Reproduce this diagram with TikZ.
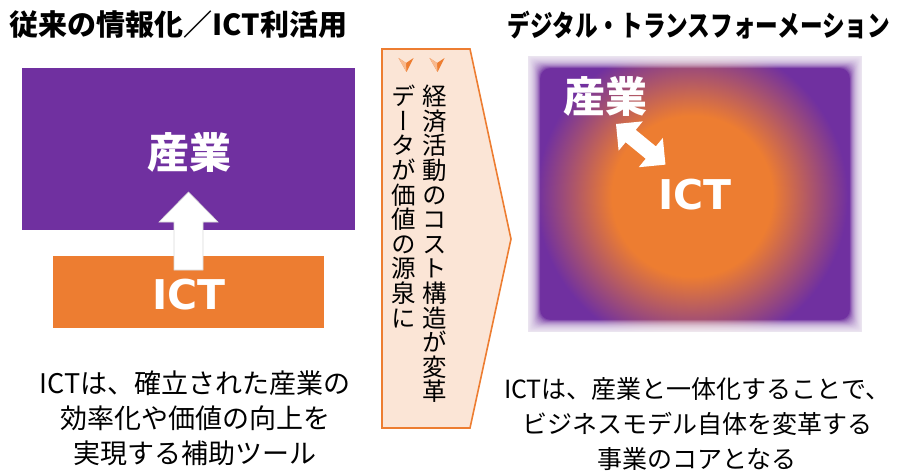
\documentclass[tikz,border=0pt]{standalone}
\usepackage{fontspec}
\setmainfont{Noto Sans CJK JP}
\newfontfamily\ictfont{DejaVu Sans}
\newfontfamily\vfont[RawFeature=+vert]{Noto Sans CJK JP}
\definecolor{dxpurple}{HTML}{7030A0}
\definecolor{dxorange}{HTML}{ED7D31}
\definecolor{dxpeach}{HTML}{FBE5D6}
\definecolor{dxlight}{HTML}{F8B98E}
\pgfdeclareradialshading{dxglow}{\pgfpoint{0bp}{0bp}}{color(0bp)=(dxorange); color(80bp)=(dxorange); color(155bp)=(dxpurple); color(260bp)=(dxpurple)}
\tikzset{
  titletext/.style={font=\fontsize{29}{32}\selectfont\bfseries, inner sep=0},
  bigjp/.style={font=\fontsize{42}{46}\selectfont\bfseries, text=white, inner sep=0},
  bigict/.style={font=\ictfont\fontsize{41}{46}\selectfont\bfseries, text=white, inner sep=0},
  vcol/.style={font=\vfont\fontsize{24.5}{24.6}\selectfont, align=center, inner sep=0, anchor=north},
  desc/.style={align=center, inner sep=0},
  blockarrow/.style={fill=white, draw=black!15, line width=0.6pt},
  dxbul/.pic={
    \fill[dxorange] (-7.5,0) -- (0,5) -- (7.5,0) -- (0.5,14) -- cycle;
    \fill[dxlight] (-7.5,0) -- (0,5) -- (0.5,14) -- cycle;
  }
}
\begin{document}
\begin{tikzpicture}[x=1pt,y=-1pt]
\useasboundingbox (0,0) rectangle (901,473);

% titles
\node[titletext] (t1) at (178.5,25) {従来の情報化／ICT利活用};
\node[titletext] (t2) at (699,25) {\scalebox{0.78}[1]{デジタル・トランスフォーメーション}};

% left panel
\node[fill=dxpurple, minimum width=333, minimum height=162, inner sep=0] (ind) at (188.5,149) {};
\node[bigjp] (indl) at (189,153) {産業};
\node[fill=dxorange, minimum width=271, minimum height=72, inner sep=0] (ict) at (188.5,292) {};
\node[bigict] (ictl) at (189,295) {ICT};
\draw[blockarrow] (174,270) -- (174,222) -- (159,222) -- (188.5,192) -- (218,222) -- (203,222) -- (203,270) -- cycle;

% middle chevron
\draw[fill=dxpeach, draw=dxorange, line width=1.6pt, line join=miter]
  (382,49) coordinate (c1) -- (470,49) -- (511,239) coordinate (ctip) -- (470,428) -- (382,428) -- cycle;
\pic at (437,58) {dxbul};
\pic at (406,58) {dxbul};
\node[vcol] (v1) at (435,85) {経\\済\\活\\動\\の\\コ\\ス\\ト\\構\\造\\が\\変\\革};
\node[vcol] (v2) at (404,85) {デ\\ー\\タ\\が\\価\\値\\の\\源\\泉\\に};

% right panel
\begin{scope}
  \clip (527,55) rectangle (863,333);
  \node[inner sep=0] (glow) at (692,196) {\pgfuseshading{dxglow}};
\end{scope}
\foreach \w [evaluate=\w as \d using 0.6*\w, evaluate=\w as \r using 0.45*\w] in {1,...,22}
  \fill[white, opacity=0.1, even odd rule] (527,55) rectangle (863,333)
    [rounded corners=\r pt] ({527+\d},{55+\d}) rectangle ({863-\d},{333-\d});
\draw[white, line width=1.6pt] (527,55) rectangle (863,333);
\node[bigjp] (ind2) at (605,97) {産業};
\node[bigict] (ict2) at (695,195) {ICT};
\begin{scope}[shift={(616,124)}, rotate=-39.4]
  \fill[white] (0,0) -- (19,19) -- (19,8) -- (45,8) -- (45,19) -- (64,0)
    -- (45,-19) -- (45,-8) -- (19,-8) -- (19,-19) -- cycle;
\end{scope}

% descriptions
\node[desc, font=\fontsize{27}{35}\selectfont] (d1) at (195,418)
  {ICTは、確立された産業の\\効率化や価値の向上を\\実現する補助ツール};
\node[desc, font=\fontsize{25}{35}\selectfont] (d2) at (697,424)
  {ICTは、産業と一体化することで、\\ビジネスモデル自体を変革する\\事業のコアとなる};
\end{tikzpicture}
\end{document}
